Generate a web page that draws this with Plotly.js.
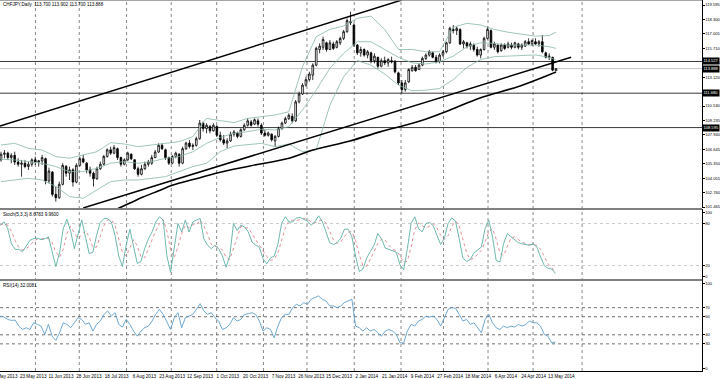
<!DOCTYPE html>
<html><head><meta charset="utf-8">
<script src="https://cdn.plot.ly/plotly-3.0.1.min.js"></script>
<style>html,body{margin:0;padding:0;background:#fff}#chart{width:720px;height:379px}</style>
</head><body><div id="chart"></div>
<script>
// ---------------- DATA ----------------
const symbolTitle = "CHFJPY,Daily  113.700 113.902 113.700 113.888";
const stochTitle = "Stoch(5,3,3) 8.6783 9.9600";
const rsiTitle = "RSI(14) 32.0081";

// candles (one candle per 2 chart bars)
const openP = [105.7,106.2,106.3,105.9,106.1,105.5,105.3,105.4,105.1,105.3,105.7,105.5,105.6,105.8,103.8,104.6,102.6,102.3,103.5,105.1,
104.5,104.8,103.7,105.2,105.8,105.4,104.8,104.5,104.0,104.9,105.3,106.0,106.6,106.3,106.7,105.9,105.3,105.7,106.2,105.7,
104.9,104.4,104.9,105.3,105.4,105.9,106.4,107.0,106.6,105.9,105.4,106.0,106.2,105.4,106.7,107.2,106.9,107.0,107.6,109.0,
108.5,108.7,108.3,108.7,107.9,107.5,107.2,107.4,108.0,108.1,107.8,108.4,108.8,109.1,108.9,109.2,108.8,108.1,107.9,108.0,
107.4,107.8,108.5,109.0,109.4,109.6,109.2,110.9,111.6,112.4,112.9,113.3,114.2,115.6,115.8,116.2,115.6,116.1,115.8,116.2,
116.6,117.2,118.1,117.8,116.0,115.3,115.6,115.1,115.3,114.6,114.9,114.1,114.6,114.4,114.6,114.5,113.5,112.6,112.0,112.7,
113.7,114.0,113.8,114.2,114.8,115.1,115.3,114.9,114.5,115.1,115.4,116.2,117.4,117.3,117.4,116.1,116.2,115.9,116.0,115.6,
115.1,115.6,116.6,117.3,115.8,116.0,115.5,116.0,115.8,116.0,115.8,116.1,115.8,115.9,116.3,116.1,116.3,116.1,116.3,115.3,
114.9,114.9,113.700];
const highP = [106.43,106.58,106.43,106.29,106.43,105.84,105.69,105.69,105.54,105.84,105.99,105.69,106.14,105.9,105.0,104.7,103.3,103.74,105.39,105.24,
105.09,104.94,105.39,105.99,106.14,105.5,105.09,104.64,105.09,105.54,106.14,106.73,106.88,107.03,106.8,105.99,105.84,106.43,106.29,105.75,
105.09,105.24,105.54,105.69,106.14,106.58,107.18,107.18,106.7,105.99,106.14,106.43,106.29,106.88,107.33,107.48,107.18,107.78,109.28,109.13,
108.98,108.83,108.98,108.8,108.23,107.93,107.63,108.23,108.38,108.23,108.53,108.98,109.42,109.28,109.42,109.42,108.98,108.38,108.23,108.08,
107.93,108.68,109.13,109.57,109.87,109.87,111.07,111.82,112.57,113.16,113.61,114.36,115.85,116.15,116.75,116.30,116.45,116.30,116.45,116.75,
117.35,118.40,118.99,117.95,116.10,115.85,115.70,115.56,115.41,115.26,114.95,114.81,114.96,114.81,114.96,114.66,113.61,112.86,112.86,113.91,
114.21,114.21,114.36,114.96,115.26,115.56,115.41,115.11,115.26,115.56,116.30,117.65,117.80,117.65,117.5,116.45,116.30,116.30,116.15,115.85,
115.70,116.75,117.65,117.4,116.30,116.05,116.15,116.15,116.30,116.21,116.30,116.21,116.15,116.45,116.60,116.51,116.60,116.45,116.90,115.41,
115.26,114.95,113.902];
const lowP = [105.54,105.84,105.69,105.39,105.24,105.09,104.19,104.94,104.79,105.09,105.24,105.09,105.24,103.5,103.6,102.4,101.95,102.2,103.4,104.19,
103.89,103.30,103.6,105.09,105.39,104.49,104.19,103.30,103.9,104.79,105.2,105.9,106.14,106.2,105.69,105.09,105.2,105.6,105.69,104.79,
104.19,104.3,104.8,105.09,105.24,105.84,106.3,106.58,105.69,105.24,105.3,105.84,105.09,105.3,106.58,106.73,106.58,106.88,107.5,108.23,
108.08,108.08,108.23,107.78,107.33,107.03,106.73,107.3,107.78,107.63,107.7,108.3,108.68,108.68,108.83,108.68,107.93,107.78,107.78,107.33,
106.88,107.7,108.4,108.9,109.28,108.98,109.1,110.77,111.52,112.27,112.72,112.86,114.1,115.26,115.56,115.41,115.56,115.56,115.70,116.00,
116.45,117.1,117.80,115.85,115.11,114.96,114.96,114.81,114.36,114.36,113.91,114.0,114.21,114.06,114.36,113.46,112.42,111.67,111.82,112.6,
113.61,113.61,113.76,114.1,114.66,114.96,114.81,114.36,114.36,114.96,115.26,116.1,117.05,116.90,116.00,115.70,115.70,115.56,115.41,114.96,
114.81,115.5,116.5,115.70,115.56,115.26,115.4,115.56,115.70,115.61,115.70,115.61,115.56,115.85,116.00,115.91,116.00,115.85,115.26,114.81,
114.66,113.65,113.700];
const closeP = [106.2,106.3,105.9,106.1,105.5,105.3,105.4,105.1,105.3,105.7,105.5,105.6,105.9,103.8,104.7,102.6,102.3,103.5,105.2,104.5,
104.8,103.7,105.2,105.8,105.5,104.8,104.5,104.0,104.9,105.3,106.0,106.6,106.3,106.8,105.9,105.3,105.7,106.3,105.8,104.9,
104.4,104.9,105.3,105.5,105.9,106.4,107.0,106.7,105.9,105.4,106.0,106.3,105.4,106.7,107.2,106.9,107.0,107.6,109.0,108.5,
108.8,108.3,108.8,107.9,107.5,107.2,107.4,108.0,108.2,107.8,108.4,108.8,109.2,108.8,109.3,108.9,108.1,107.9,108.1,107.5,
107.8,108.5,109.0,109.4,109.7,109.2,110.9,111.6,112.4,112.9,113.4,114.2,115.7,115.9,116.5,115.6,116.2,115.7,116.3,116.6,
117.2,118.2,118.0,116.0,115.3,115.6,115.1,115.4,114.6,115.0,114.1,114.6,114.4,114.7,114.5,113.6,112.6,112.0,112.6,113.8,
114.0,113.7,114.2,114.8,115.1,115.4,114.9,114.5,115.1,115.4,116.2,117.5,117.3,117.5,116.1,116.3,115.9,116.1,115.6,115.1,
115.6,116.6,117.4,115.8,116.1,115.4,116.0,115.7,116.1,115.8,116.2,115.8,116.0,116.3,116.1,116.4,116.1,116.3,115.4,114.9,
115.0,113.75,113.888];

// Bollinger bands read at every 4th candle
const bbCandle = [0,4,8,12,16,20,24,28,32,36,40,44,48,52,56,60,64,68,72,76,80,84,88,92,96,100,104,108,112,116,120,124,128,132,136,140,144,148,152,156,160,162];
const bbUpper = [107.03,107.18,106.73,106.58,105.99,105.84,106.14,106.43,107.24,107.12,106.88,107.03,107.24,107.33,107.78,109.42,109.22,109.04,109.42,109.57,109.72,110.02,114.06,116.75,117.41,117.71,118.4,118.6,117.4,115.6,115.6,115.4,115.4,117.6,117.95,117.8,117.4,117.15,116.95,116.8,116.85,117.15];
const bbMid = [105.75,105.69,105.54,105.39,105.09,104.64,104.64,104.94,105.39,105.54,105.39,105.54,105.84,105.99,106.43,107.18,107.72,108.08,108.23,108.44,108.38,108.68,110.17,111.97,113.91,115.26,116.3,116.3,115.6,114.9,114.4,114.3,114.5,115.0,115.85,116.2,116.15,116.0,116.0,116.0,115.85,115.7];
const bbLower = [103.74,103.89,104.04,103.89,103.30,102.40,102.25,103.00,103.74,103.89,103.89,104.04,104.19,104.64,105.09,105.39,106.43,106.94,107.03,107.18,106.88,107.12,106.43,106.6,110.6,113.16,114.6,114.2,113.4,112.4,111.9,111.95,112.1,112.9,114.0,114.7,114.96,115.02,115.11,115.11,114.9,114.66];

// drawn lines (chart-bar positions, prices)
const upperLineBar = [-0.58, 233.9];
const upperLineVal = [108.74, 120.04];
const lowerLineBar = [48.0, 332.8];
const lowerLineVal = [101.38, 114.90];
const maBar = [68.3,75.3,82.9,91.7,100.4,113.3,126.1,145.4,168.7,182.1,203.7,221.2,244.6,262.1,279.6,303.0,324.0];
const maVal = [101.33,101.82,102.36,102.90,103.44,103.98,104.52,105.15,105.87,106.58,107.39,108.21,109.18,110.17,111.25,112.33,113.58];

// horizontal levels
const levels = [114.527, 111.680, 108.595];
const levelLabels = ["114.527", "111.680", "108.595"];
const bidPrice = 113.888;

// price scale (111.825 sits behind the 111.680 box in the reference)
const priceTicks = [101.465,102.760,104.055,105.350,106.645,107.940,109.235,110.530,113.120,114.415,115.710,117.005,118.300,119.595];

// stochastic (%K solid, %D dotted), one value per 2.16 chart bars
const stochK = [77.6,82.4,72.8,51,43,43,40,49,56,58.4,
59,57,58,61,39,18.5,38,73,86,69,
44,63,85,61,37,39,63,81.5,87,87,
82,63,33.5,18.5,49,72,49,23,26,44,
58,68,82,89.6,85,34,10.4,49,80,68,
85,68,82,85,87,58,49,44,49,44,
34,17.6,34,80,70,77.6,75,68,53.6,49,
46,29.6,22.4,30.6,33.4,50,80,89.6,82.4,82,
88,88.6,86,83.4,77.6,82.4,91,83,68,52.6,
50,52.6,59,72,72,61,33.4,11.4,15,30.6,
40,49,65.6,58.4,45,43,41.6,39,21,14,
44,80,89.6,72.8,68,80,81.5,76.6,63,50,
59,80,88,83.4,58.4,30.6,25.8,28.6,38,41.6,
46.4,72.8,84.8,61,27.2,24.8,51,65.6,61,56,
52.6,51,50,48.8,51,46.4,32,20,16,15,8.7];
const stochD = [78,80,77.6,68.7,55.6,45.7,42,44,48.3,54.5,
57.8,58.1,58,58.7,52.7,39.5,31.8,43.2,65.7,76,
66.3,58.7,64,69.7,61,45.7,46.3,61.2,77.2,85.2,
85.3,77.3,59.5,38.3,33.7,46.5,56.7,48,32.7,31,
42.7,56.7,69.3,79.9,85.5,69.5,43.1,31.1,46.5,65.7,
77.7,73.7,78.3,78.3,84.7,76.7,64.7,50.3,47.3,45.7,
42.3,31.9,28.5,43.9,61.3,75.9,74.2,73.5,65.5,56.9,
49.5,41.5,32.7,27.5,28.8,38,54.5,73.2,84,84.7,
84.1,86.2,87.5,86,82.3,81.1,83.7,85.5,80.7,67.9,
56.9,51.7,53.9,61.2,67.7,68.3,55.5,35.3,19.9,19,
28.5,39.9,51.5,57.7,56.3,48.8,43.2,41.2,33.9,24.7,
26.3,46,71.2,80.8,76.8,73.6,76.5,79.4,73.7,63.2,
57.3,63,75.7,83.8,76.6,57.5,38.3,28.3,30.8,36.1,
42,53.6,68,72.9,57.7,37.7,34.3,47.1,59.2,60.9,
56.5,53.2,51.2,49.9,49.9,48.7,43.1,32.8,22.7,17,10];
const stochLevels = [20, 80];
const stochTickVals = [4, 20, 80, 96];
const stochTickText = ["0", "20", "80", "100"];

// RSI(14)
const rsi = [60.7,59.6,57,55.9,56.3,49.6,45.9,47.8,45.9,53.3,
51.5,49.6,40.4,51.5,38.5,33.7,42.2,53.3,51.5,47.8,
53.3,58.9,57,51.5,53.3,44.1,51.5,55.2,62.6,66.3,
60.7,64.4,51.5,48.5,57,51.5,44.1,38.5,44.1,47.8,
49.6,55.2,62.6,68.1,62.6,53.3,45.9,58.9,64.4,47.8,
58.9,60.7,62.6,68.1,74.4,66.3,62.6,64.4,58.9,55.2,
45.9,47.8,51.5,58.9,55.2,57,62.6,63.3,64.4,62.6,
55.2,44.1,47.8,45.9,36.7,49.6,58.9,62.6,62.6,70,
73.7,71.9,75.6,73.7,79.3,81.1,83,79.3,77.4,71.9,
71.9,70,71.9,75.6,77.4,79.3,49.6,47.8,44.1,47.8,
44.1,45.9,42.2,38.5,44.1,45.9,44.1,40.4,31.1,31.1,
44.1,51.5,49.6,55.2,57,60.7,59.6,60.7,57,49.6,
58.9,68.1,70,69.3,62.6,55.2,57,51.5,53.3,47.8,
42.2,57,62.6,53.3,47.8,45.9,49.6,47.8,49.6,48.5,
51.5,49.6,51.5,55.2,53.3,53.3,49.6,40.4,38.5,31.1,32.0];
const rsiLevels = [30, 40, 60, 70];
const rsiTickVals = [3, 30, 40, 60, 70, 97];
const rsiTickText = ["0", "30", "40", "60", "70", "100"];

// time axis (chart-bar positions of date labels and of the vertical grid)
const dateTickBar = [2.6,18.8,35.0,51.3,67.5,83.7,99.9,116.2,132.4,148.6,164.9,181.1,197.3,213.5,229.8,246.0,262.2,278.5,294.7,310.9,327.1];
const dateTickText = ["5 May 2013","23 May 2013","11 Jun 2013","28 Jun 2013","18 Jul 2013","6 Aug 2013","23 Aug 2013","12 Sep 2013","1 Oct 2013","20 Oct 2013","7 Nov 2013","26 Nov 2013","15 Dec 2013","2 Jan 2014","21 Jan 2014","9 Feb 2014","27 Feb 2014","18 Mar 2014","6 Apr 2014","24 Apr 2014","13 May 2014"];
const gridBar = [20.1,45.7,73.3,99.4,125.9,153.2,178.6,206.2,233.5,258.3,284.3,310.6,339.2];

// ---------------- BUILD ----------------
const BARS_PER_CANDLE = 2;
const IND_STEP = 2.16, IND_START = -0.38;
const candleX = closeP.map((_, i) => i * BARS_PER_CANDLE);
const bbX = bbCandle.map(i => i * BARS_PER_CANDLE);
const indX = stochK.map((_, k) => IND_START + k * IND_STEP);
const rsiX = rsi.map((_, k) => IND_START + k * IND_STEP);

const FONT = "Liberation Sans, Arial, sans-serif";
const FS = 4.6;
const AXFS = 4.1;
const bbColor = "#86b8a6";

const traces = [
  {type:"scatter", mode:"lines", x:bbX, y:bbUpper, line:{color:bbColor, width:0.8}, hoverinfo:"skip"},
  {type:"scatter", mode:"lines", x:bbX, y:bbMid, line:{color:bbColor, width:0.8}, hoverinfo:"skip"},
  {type:"scatter", mode:"lines", x:bbX, y:bbLower, line:{color:bbColor, width:0.8}, hoverinfo:"skip"},
  {type:"candlestick", x:candleX, open:openP, high:highP, low:lowP, close:closeP,
   increasing:{line:{color:"#000", width:0.8}, fillcolor:"#ffffff"},
   decreasing:{line:{color:"#000", width:0.8}, fillcolor:"#000000"},
   whiskerwidth:0, hoverinfo:"skip"},
  {type:"scatter", mode:"lines", x:upperLineBar, y:upperLineVal, line:{color:"#000", width:1.5}, hoverinfo:"skip"},
  {type:"scatter", mode:"lines", x:lowerLineBar, y:lowerLineVal, line:{color:"#000", width:1.5}, hoverinfo:"skip"},
  {type:"scatter", mode:"lines", x:maBar, y:maVal, line:{color:"#000", width:1.6, shape:"spline"}, hoverinfo:"skip"},
  {type:"scatter", mode:"lines", x:indX, y:stochD, yaxis:"y2", line:{color:"#d9747a", width:0.8, dash:"dot"}, hoverinfo:"skip"},
  {type:"scatter", mode:"lines", x:indX, y:stochK, yaxis:"y2", line:{color:"#5fb0a6", width:0.9}, hoverinfo:"skip"},
  {type:"scatter", mode:"lines", x:rsiX, y:rsi, yaxis:"y3", line:{color:"#5f9fcc", width:0.9}, hoverinfo:"skip"}
];

const shapes = [];
gridBar.forEach(b => shapes.push({type:"line", xref:"x", yref:"paper", x0:b, x1:b, y0:0, y1:1, layer:"below",
  line:{color:"#555", width:0.7, dash:"dot"}}));
levels.forEach(v => shapes.push({type:"line", xref:"paper", yref:"y", x0:0, x1:1, y0:v, y1:v, layer:"below",
  line:{color:"#3a3a3a", width:1}}));
shapes.push({type:"line", xref:"paper", yref:"y", x0:0, x1:1, y0:bidPrice, y1:bidPrice, layer:"below",
  line:{color:"#c4c4c4", width:1}});
stochLevels.forEach(v => shapes.push({type:"line", xref:"paper", yref:"y2", x0:0, x1:1, y0:v, y1:v, layer:"below",
  line:{color:"#b5b5b5", width:0.7, dash:"dot"}}));
rsiLevels.forEach(v => shapes.push({type:"line", xref:"paper", yref:"y3", x0:0, x1:1, y0:v, y1:v, layer:"below",
  line:{color:"#333", width:0.7, dash:"dot"}}));
// panel separators and top border
[0.43666, 0.24528].forEach(p => shapes.push({type:"line", xref:"paper", yref:"paper", x0:0, x1:1, y0:p, y1:p,
  line:{color:"#808080", width:2}}));
shapes.push({type:"line", xref:"paper", yref:"paper", x0:0, x1:1, y0:1, y1:1, line:{color:"#888", width:1.5}});

const annotations = [
  {xref:"paper", yref:"paper", x:0.002, y:0.999, xanchor:"left", yanchor:"top", text:symbolTitle, showarrow:false,
   font:{family:FONT, size:FS, color:"#000"}},
  {xref:"paper", yref:"paper", x:0.002, y:0.4345, xanchor:"left", yanchor:"top", text:stochTitle, showarrow:false,
   font:{family:FONT, size:FS, color:"#000"}},
  {xref:"paper", yref:"paper", x:0.002, y:0.2432, xanchor:"left", yanchor:"top", text:rsiTitle, showarrow:false,
   font:{family:FONT, size:FS, color:"#000"}}
];
levels.forEach((v, i) => annotations.push({xref:"paper", yref:"y", x:1, y:v, xanchor:"left", yanchor:"middle",
  text:levelLabels[i], showarrow:false, bgcolor:"#000", borderpad:0.4, font:{family:FONT, size:AXFS, color:"#fff"}}));
annotations.push({xref:"paper", yref:"y", x:1, y:bidPrice, xanchor:"left", yanchor:"middle",
  text:bidPrice.toFixed(3), showarrow:false, bgcolor:"#000", borderpad:0.4, font:{family:FONT, size:AXFS, color:"#fff"}});

const axisCommon = {showgrid:false, zeroline:false, showline:true, linecolor:"#000", linewidth:1,
  ticks:"outside", ticklen:1.5, tickwidth:1, tickcolor:"#000", tickfont:{family:FONT, size:AXFS, color:"#000"},
  fixedrange:true, ticklabelstandoff:0};

const layout = {
  width:720, height:379,
  margin:{l:0, r:18, t:0, b:8, pad:0},
  paper_bgcolor:"#fff", plot_bgcolor:"#fff",
  showlegend:false, hovermode:false,
  font:{family:FONT, size:FS, color:"#000"},
  xaxis:{range:[-0.584, 409.2], anchor:"y3", tickmode:"array", tickvals:dateTickBar, ticktext:dateTickText,
    showgrid:false, zeroline:false, showline:true, linecolor:"#000", linewidth:1, ticks:"",
    ticklabeloverflow:"allow",
    tickfont:{family:FONT, size:FS, color:"#000"}, rangeslider:{visible:false}, fixedrange:true, tickangle:0},
  yaxis:Object.assign({}, axisCommon, {domain:[0.43935, 1], range:[101.376, 120.044], side:"right",
    tickmode:"array", tickvals:priceTicks, tickformat:".3f"}),
  yaxis2:Object.assign({}, axisCommon, {domain:[0.24663, 0.43531], range:[0, 100], side:"right",
    tickmode:"array", tickvals:stochTickVals, ticktext:stochTickText}),
  yaxis3:Object.assign({}, axisCommon, {domain:[0, 0.24394], range:[0, 100], side:"right",
    tickmode:"array", tickvals:rsiTickVals, ticktext:rsiTickText}),
  shapes:shapes,
  annotations:annotations
};

Plotly.newPlot("chart", traces, layout, {staticPlot:true, displayModeBar:false});
</script></body></html>
